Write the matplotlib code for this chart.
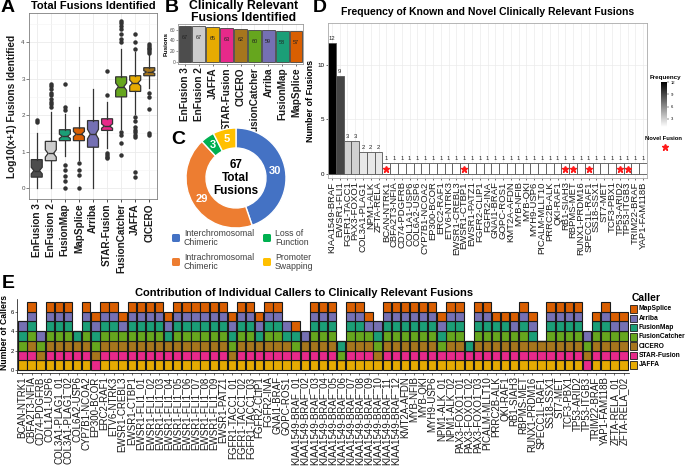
import matplotlib
matplotlib.use("Agg")
import matplotlib.pyplot as plt
import numpy as np
from matplotlib.patches import Rectangle, FancyBboxPatch
from matplotlib.colors import LinearSegmentedColormap, Normalize
import matplotlib.cm as cm

plt.rcParams['font.family'] = ['Liberation Sans', 'DejaVu Sans']

W, H = 685, 470
fig = plt.figure(figsize=(W / 100, H / 100), dpi=100)
fig.patch.set_facecolor('white')


def ax_px(x0, y0, x1, y1, **kw):
    return fig.add_axes([x0 / W, 1 - y1 / H, (x1 - x0) / W, (y1 - y0) / H], **kw)

# ---------------- colours ----------------
caller_colors = {
    'EnFusion 3': '#4D4D4D', 'EnFusion 2': '#CCCCCC', 'JAFFA': '#E6AB02',
    'STAR-Fusion': '#E7298A', 'CICERO': '#A6761D', 'FusionCatcher': '#66A61E',
    'Arriba': '#7570B3', 'FusionMap': '#1B9E77', 'MapSplice': '#D95F02'}

# ---------------- Panel A data ----------------
a_callers = ['EnFusion 3', 'EnFusion 2', 'FusionMap', 'MapSplice', 'Arriba',
             'STAR-Fusion', 'FusionCatcher', 'JAFFA', 'CICERO']
a_med = [0.48, 0.95, 1.42, 1.48, 1.48, 1.70, 2.78, 2.88, 3.18]
a_q1 = [0.30, 0.75, 1.30, 1.30, 1.12, 1.58, 2.50, 2.65, 3.08]
a_q3 = [0.78, 1.28, 1.60, 1.65, 1.85, 1.90, 3.05, 3.08, 3.30]
a_wlo = [0.00, 0.00, 0.88, 0.78, 0.00, 1.10, 1.62, 2.02, 2.75]
a_whi = [1.52, 2.08, 2.02, 2.22, 2.72, 2.36, 3.82, 3.72, 3.65]
a_notch = [0.09, 0.10, 0.06, 0.07, 0.13, 0.06, 0.10, 0.08, 0.04]
a_fliers = [
    [1.82, 1.86],
    [2.22, 2.30, 2.37, 2.45, 2.55, 2.62, 2.72, 2.80, 2.86],
    [0.0, 0.18, 0.32, 0.50, 0.62, 2.14, 2.23, 2.85],
    [0.0, 0.36, 0.50, 0.68],
    [],
    [0.82, 0.85, 0.90, 0.95, 2.55, 3.22],
    [0.91, 1.23, 1.45, 1.55, 4.00, 4.09, 4.23, 4.36, 4.45, 4.52, 4.59],
    [0.30, 0.45, 1.41, 1.45, 1.55, 1.60, 1.68, 1.85, 1.95, 3.82, 4.00, 4.23],
    [1.45, 1.50, 2.18, 2.50, 2.60, 3.70, 3.75, 3.80, 3.85, 3.90, 3.95],
]

# ---------------- Panel B data ----------------
b_callers = ['EnFusion 3', 'EnFusion 2', 'JAFFA', 'STAR-Fusion', 'CICERO',
             'FusionCatcher', 'Arriba', 'FusionMap', 'MapSplice']
b_counts = [67, 67, 65, 63, 62, 60, 59, 58, 57]

# ---------------- Panel C data ----------------
c_labels = ['Interchromosomal\nChimeric', 'Intrachromosomal\nChimeric',
            'Loss of\nFunction', 'Promoter\nSwapping']
c_values = [30, 29, 3, 5]
c_colors = ['#4472C4', '#ED7D31', '#00B050', '#FFC000']

# ---------------- Panel D data ----------------
d_fusions = ['KIAA1549-BRAF', 'EWSR1-FLI1', 'FGFR1-TACC1', 'PAX3-FOXO1',
             'COL3A1-PLAG1', 'NPM1-ALK', 'ZFTA-RELA', 'BCAN-NTRK1',
             'CBFA2T3-NFIA', 'CD74-PDGFRB', 'COL1A1-USP6', 'COL6A2-USP6',
             'CYP7B1-NCOA2', 'EP300-BCOR', 'ERC2-RAF1', 'ETV6-NTRK3',
             'EWSR1-CREBL3', 'EWSR1-CTBP1', 'EWSR1-PATZ1', 'FGFR2-CLIP1',
             'FGFR2-INA', 'GNAI1-BRAF', 'GOPC-ROS1', 'KMT2A-AFDN', 'MYB-NFIB',
             'MYB-QKI', 'MYH9-USP6', 'PICALM-MLLT10', 'PRRC2B-ALK', 'QKI-RAF1',
             'RB1-SIAH3', 'RBPMS-MET', 'RUNX1-PRDM16', 'SPECC1L-RAF1',
             'SS18-SSX1', 'ST7-MET', 'TCF3-PBX1', 'TP53-ARID2', 'TP53-ITGB3',
             'TRIM22-BRAF', 'YAP1-FAM118B']
d_freq = [12, 9, 3, 3, 2, 2, 2, 1, 1, 1, 1, 1, 1, 1, 1, 1, 1, 1, 1, 1, 1,
          1, 1, 1, 1, 1, 1, 1, 1, 1, 1, 1, 1, 1, 1, 1, 1, 1, 1, 1, 1]
d_novel = ['BCAN-NTRK1', 'EWSR1-CTBP1', 'RB1-SIAH3', 'RBPMS-MET',
           'SPECC1L-RAF1', 'TP53-ARID2', 'TP53-ITGB3']

# ---------------- Panel E data ----------------
e_fusions = ['BCAN-NTRK1', 'CBFA2T3-NFIA', 'CD74-PDGFRB', 'COL1A1-USP6',
             'COL3A1-PLAG1_01', 'COL3A1-PLAG1_02', 'COL6A2-USP6', 'CYP7B1-NCOA2',
             'EP300-BCOR', 'ERC2-RAF1', 'ETV6-NTRK3', 'EWSR1-CREBL3',
             'EWSR1-CTBP1', 'EWSR1-FLI1_01', 'EWSR1-FLI1_02', 'EWSR1-FLI1_03',
             'EWSR1-FLI1_04', 'EWSR1-FLI1_05', 'EWSR1-FLI1_06', 'EWSR1-FLI1_07',
             'EWSR1-FLI1_08', 'EWSR1-FLI1_09', 'EWSR1-PATZ1', 'FGFR1-TACC1_01',
             'FGFR1-TACC1_02', 'FGFR1-TACC1_03', 'FGFR2-CLIP1', 'FGFR2-INA',
             'GNAI1-BRAF', 'GOPC-ROS1', 'KIAA1549-BRAF_01', 'KIAA1549-BRAF_02',
             'KIAA1549-BRAF_03', 'KIAA1549-BRAF_04', 'KIAA1549-BRAF_05',
             'KIAA1549-BRAF_06', 'KIAA1549-BRAF_07', 'KIAA1549-BRAF_08',
             'KIAA1549-BRAF_09', 'KIAA1549-BRAF_10', 'KIAA1549-BRAF_11',
             'KIAA1549-BRAF_12', 'KMT2A-AFDN', 'MYB-NFIB', 'MYB-QKI', 'MYH9-USP6',
             'NPM1-ALK_01', 'NPM1-ALK_02', 'PAX3-FOXO1_01', 'PAX3-FOXO1_02',
             'PAX3-FOXO1_03', 'PICALM-MLLT10', 'PRRC2B-ALK', 'QKI-RAF1',
             'RB1-SIAH3', 'RBPMS-MET', 'RUNX1-PRDM16', 'SPECC1L-RAF1',
             'SS18-SSX1', 'ST7-MET', 'TCF3-PBX1', 'TP53-ARID2', 'TP53-ITGB3',
             'TRIM22-BRAF', 'YAP1-FAM118B', 'ZFTA-RELA_01', 'ZFTA-RELA_02']
# detection flags (1 = detected), stacking order bottom -> top
e_order = ['JAFFA', 'STAR-Fusion', 'CICERO', 'FusionCatcher', 'FusionMap',
           'Arriba', 'MapSplice']
e_JAFFA = "1111111101" "1111111111" "1111111111" "1111111111" "1111111111" "1111111111" "1101111"
e_STAR = "1101111111" "1111111111" "1110111111" "1111101110" "1111111111" "1111111111" "1111111"
e_CICERO = "0111111111" "1111111111" "1111111111" "0111101111" "1111110110" "1111111111" "1111111"
e_FusionCatcher = "1111110111" "1111110111" "1111110110" "1011111111" "1111111110" "1111110011" "1111111"
e_FusionMap = "1101111111" "1011111111" "1111111111" "1011111101" "1111111111" "1111011011" "1101100"
e_Arriba = "1111110111" "1111111111" "1111111111" "0111101111" "1111111110" "1100111011" "1110111"
e_MapSplice = "0101110111" "1111111111" "1111111110" "1011101110" "1111111110" "1111111011" "1101111"
e_flags = {'JAFFA': e_JAFFA, 'STAR-Fusion': e_STAR, 'CICERO': e_CICERO,
           'FusionCatcher': e_FusionCatcher, 'FusionMap': e_FusionMap,
           'Arriba': e_Arriba, 'MapSplice': e_MapSplice}

GRID = '#EBEBEB'
BORDER = '#7F7F7F'
TXT = '#1A1A1A'

# ================= Panel A =================
axA = ax_px(29, 13, 157, 199)
pos = np.arange(1, len(a_callers) + 1)
stats = []
for i in range(len(a_callers)):
    stats.append(dict(med=a_med[i], q1=a_q1[i], q3=a_q3[i], whislo=a_wlo[i],
                      whishi=a_whi[i], fliers=a_fliers[i],
                      cilo=a_med[i] - a_notch[i], cihi=a_med[i] + a_notch[i]))
bp = axA.bxp(stats, positions=pos, widths=0.78, shownotches=True,
             patch_artist=True, showcaps=False,
             boxprops=dict(edgecolor='#333333', linewidth=0.9),
             medianprops=dict(color='#333333', linewidth=1.0),
             whiskerprops=dict(color='#333333', linewidth=0.9),
             flierprops=dict(marker='o', markersize=2.2, markerfacecolor='#333333',
                             markeredgecolor='#333333'))
for patch, name in zip(bp['boxes'], a_callers):
    patch.set_facecolor(caller_colors[name])
axA.set_xlim(0.45, 9.55)
axA.set_ylim(-0.3, 4.8)
axA.set_yticks([0, 1, 2, 3, 4])
axA.set_yticks([0.5, 1.5, 2.5, 3.5, 4.5], minor=True)
axA.set_xticks(pos)
axA.set_xticklabels(a_callers, rotation=90, fontsize=7.2, fontweight='bold', color=TXT)
axA.tick_params(axis='y', labelsize=4.5, length=2, width=0.5, colors='#4D4D4D', pad=1)
axA.tick_params(axis='y', which='minor', length=0)
axA.tick_params(axis='x', length=2, width=0.5, pad=1)
axA.grid(True, which='major', color=GRID, linewidth=0.6)
axA.grid(True, which='minor', axis='y', color='#F4F4F4', linewidth=0.4)
axA.set_axisbelow(True)
for s in axA.spines.values():
    s.set_color(BORDER)
    s.set_linewidth(0.6)
axA.set_ylabel('Log10(x+1) Fusions Identified', fontsize=7.3, fontweight='bold',
               color=TXT, labelpad=3)
axA.set_title('Total Fusions Identified', fontsize=8, fontweight='bold', pad=3)

# ================= Panel B =================
axB = ax_px(178, 24, 303, 64)
xb = np.arange(len(b_callers))
axB.bar(xb, b_counts, width=0.92, color=[caller_colors[c] for c in b_callers],
        edgecolor='#444444', linewidth=0.6, zorder=2)
for x, v in zip(xb, b_counts):
    axB.text(x, v - 21, str(v), ha='center', va='center', fontsize=4, color='#222222')
axB.set_xlim(-0.5, len(b_callers) - 0.5)
axB.set_ylim(-3.35, 70.35)
axB.set_yticks([0, 20, 40, 60])
axB.set_xticks(xb)
axB.set_xticklabels(b_callers, rotation=90, fontsize=7.2, fontweight='bold', color=TXT)
axB.tick_params(axis='y', labelsize=3.5, length=1.5, width=0.4, colors='#4D4D4D', pad=0.5)
axB.tick_params(axis='x', length=1.5, width=0.4, pad=1)
axB.grid(True, color=GRID, linewidth=0.5)
axB.set_axisbelow(True)
for s in axB.spines.values():
    s.set_color('#999999')
    s.set_linewidth(0.6)
axB.set_ylabel('Fusions', fontsize=4.5, fontweight='bold', labelpad=1)
fig.text(244 / W, 1 - 12 / H, 'Clinically Relevant\nFusions Identified', ha='center',
         va='center', fontsize=8.8, fontweight='bold', linespacing=1.05)

# ================= Panel C =================
axC = ax_px(185, 127, 287, 229)
wedges, _ = axC.pie(c_values, colors=c_colors, startangle=90, counterclock=False,
                    radius=1.0, wedgeprops=dict(width=0.4, edgecolor='white', linewidth=1))
for w, v in zip(wedges, c_values):
    ang = np.deg2rad((w.theta1 + w.theta2) / 2)
    axC.text(0.8 * np.cos(ang), 0.8 * np.sin(ang), str(v), ha='center', va='center',
             color='white', fontsize=8, fontweight='bold')
axC.text(0, 0, '%d\nTotal\nFusions' % sum(c_values), ha='center', va='center',
         fontsize=8.5, fontweight='bold', linespacing=1.1)
axC.set_xlim(-1.02, 1.02)
axC.set_ylim(-1.02, 1.02)
axC.set_aspect('equal')
axC.axis('off')

# ================= Panel D =================
axD = ax_px(328, 23, 647, 178)
xd = np.arange(len(d_fusions))
cmapD = LinearSegmentedColormap.from_list('wb', ['#FFFFFF', '#000000'])
normD = Normalize(1, 12)
axD.bar(xd, d_freq, width=1.0, color=cmapD(normD(d_freq)), edgecolor='#555555',
        linewidth=0.6, zorder=2)
for x, v, n in zip(xd, d_freq, d_fusions):
    axD.text(x, v + 0.15, str(v), ha='center', va='bottom', fontsize=4.2, color='#222222')
    if n in d_novel:
        axD.plot(x, 0.45, marker='*', color='#FF1A1A', markersize=5, zorder=3)
axD.set_xlim(-0.5, len(d_fusions) - 0.5)
axD.set_ylim(-0.4, 13.85)
axD.set_yticks([0, 5, 10])
axD.set_xticks(xd)
axD.set_xticklabels(d_fusions, rotation=90, fontsize=6.8, color=TXT)
axD.tick_params(axis='y', labelsize=4.5, length=1.5, width=0.4, pad=1)
axD.tick_params(axis='x', length=1.5, width=0.4, pad=1)
axD.grid(True, color=GRID, linewidth=0.5)
axD.set_axisbelow(True)
for s in axD.spines.values():
    s.set_color('#AAAAAA')
    s.set_linewidth(0.6)
axD.set_ylabel('Number of Fusions', fontsize=6.5, fontweight='bold', labelpad=2)
axD.set_title('Frequency of Known and Novel Clinically Relevant Fusions', fontsize=7.5,
              fontweight='bold', pad=6)

caxD = ax_px(661, 82, 667, 127)
cb = fig.colorbar(cm.ScalarMappable(norm=normD, cmap=cmapD), cax=caxD)
cb.set_ticks([3, 6, 9, 12])
cb.ax.tick_params(labelsize=3, length=1.5, width=0.3, pad=1)
cb.outline.set_visible(False)

# ================= Panel E =================
axE = ax_px(17, 299, 629, 373)
xe = np.arange(len(e_fusions))
bottom = np.zeros(len(e_fusions))
for caller in e_order:
    flags = np.array([int(c) for c in e_flags[caller]], dtype=float)
    axE.bar(xe, flags, bottom=bottom, width=0.92, color=caller_colors[caller],
            edgecolor='#1A1A1A', linewidth=0.8)
    bottom = bottom + flags
axE.set_xlim(-0.6, len(e_fusions) - 0.4)
axE.set_ylim(-0.3, 7.3)
axE.set_yticks([0, 2, 4, 6])
axE.set_xticks(xe)
axE.set_xticklabels(e_fusions, rotation=90, fontsize=7, color=TXT)
axE.tick_params(axis='y', labelsize=4.2, length=1.5, width=0.4, pad=0.8)
axE.tick_params(axis='x', length=1.5, width=0.4, pad=1)
for side in ['top', 'right']:
    axE.spines[side].set_visible(False)
for side in ['left', 'bottom']:
    axE.spines[side].set_linewidth(0.5)
fig.text(4.5 / W, 1 - 333 / H, 'Number of Callers', rotation=90, ha='center', va='center',
         fontsize=6.2, fontweight='bold')
fig.text(304 / W, 1 - 293 / H, 'Contribution of Individual Callers to Clinically Relevant Fusions',
         ha='center', va='center', fontsize=8, fontweight='bold')

# ================= overlay: letters and legends =================
ov = fig.add_axes([0, 0, 1, 1], facecolor='none')
ov.set_xlim(0, W)
ov.set_ylim(H, 0)
ov.axis('off')
for letter, (lx, ly) in {'A': (8, 8), 'B': (172, 7), 'C': (178, 140), 'D': (320, 8),
                         'E': (8, 283)}.items():
    ov.text(lx, ly, letter, ha='center', va='center', fontsize=14, fontweight='bold')

# C legend
c_leg_pos = [(176, 238), (176, 262), (267, 238), (267, 262)]
for (px, py), lab, col in zip(c_leg_pos, c_labels, c_colors):
    ov.add_patch(FancyBboxPatch((px - 4, py - 4), 8, 8,
                                boxstyle='round,pad=0,rounding_size=1.5',
                                facecolor=col, edgecolor='none'))
    ov.text(px + 8, py, lab, ha='left', va='center', fontsize=6.3, color='#404040',
            linespacing=0.9)

# D legend text
ov.text(665, 77, 'Frequency', ha='center', va='center', fontsize=4.5, fontweight='bold')
ov.text(664, 139, 'Novel Fusion', ha='center', va='center', fontsize=4.2, fontweight='bold')
ov.plot(665, 147, marker='*', color='#FF1A1A', markersize=5)

# E legend
ov.text(632, 298, 'Caller', ha='left', va='center', fontsize=7.5, fontweight='bold')
e_leg = list(reversed(e_order))
for k, name in enumerate(e_leg):
    yy = 309 + k * 9.3
    ov.add_patch(Rectangle((630, yy - 3.8), 7.5, 7.6, facecolor=caller_colors[name],
                           edgecolor='#1A1A1A', linewidth=0.6))
    ov.text(639, yy, name, ha='left', va='center', fontsize=4.8, fontweight='bold')

fig.savefig('out.png', dpi=100)
